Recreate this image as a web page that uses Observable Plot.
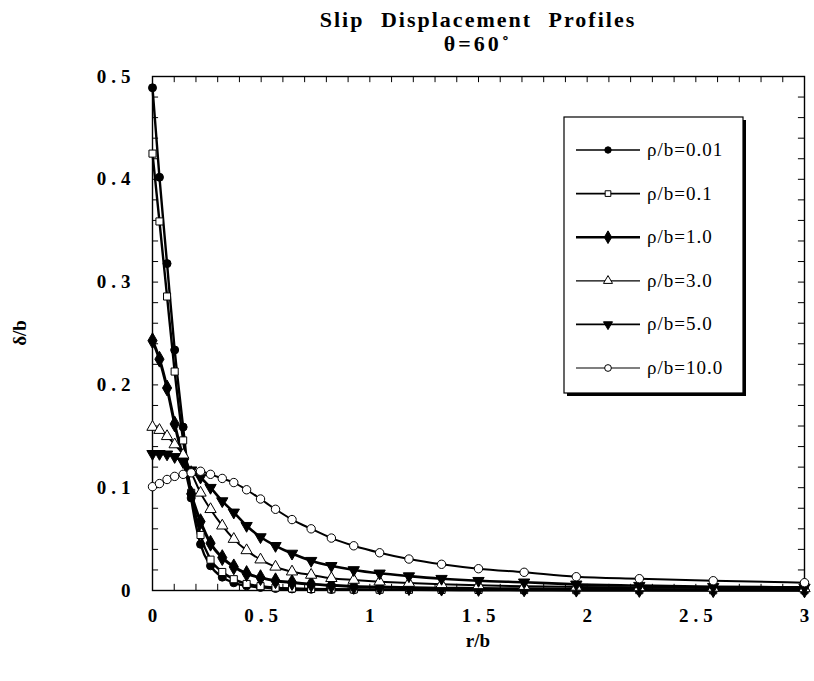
<!DOCTYPE html>
<html>
<head>
<meta charset="utf-8">
<script src="https://cdn.jsdelivr.net/npm/d3@7"></script>
<script src="https://cdn.jsdelivr.net/npm/@observablehq/plot@0.6"></script>
<style>
  body { margin: 0; background: #fff; }
  #chart svg { font-family: "Liberation Serif", "Times New Roman", serif; background: #fff; }
  #chart g[aria-label="x-axis tick label"] text,
  #chart g[aria-label="y-axis tick label"] text { font-weight: bold; letter-spacing: 5px; font-size: 19px; }
</style>
</head>
<body>
<div id="chart"></div>
<script>
// ---- data ----
const seriesNames = ["ρ/b=0.01", "ρ/b=0.1", "ρ/b=1.0", "ρ/b=3.0", "ρ/b=5.0", "ρ/b=10.0"];
const rOverB = [0, 0.032, 0.067, 0.102, 0.141, 0.178, 0.221, 0.267, 0.321, 0.374, 0.433, 0.497, 0.566, 0.642, 0.730, 0.823, 0.926, 1.045, 1.18, 1.33, 1.50, 1.71, 1.95, 2.24, 2.58, 3.0];
const delta_001 = [0.489, 0.402, 0.318, 0.234, 0.159, 0.090, 0.045, 0.024, 0.013, 0.0075, 0.0045, 0.003, 0.002, 0.0015, 0.0012, 0.001, 0.0008, 0.0007, 0.0006, 0.0005, 0.0004, 0.0003, 0.0003, 0.0002, 0.0002, 0.0002];
const delta_01  = [0.425, 0.359, 0.286, 0.213, 0.146, 0.095, 0.054, 0.030, 0.018, 0.011, 0.0064, 0.0042, 0.0028, 0.002, 0.0015, 0.0012, 0.001, 0.0008, 0.0007, 0.0006, 0.0005, 0.0004, 0.0003, 0.0003, 0.0002, 0.0002];
const delta_1   = [0.243, 0.225, 0.197, 0.162, 0.128, 0.094, 0.067, 0.046, 0.032, 0.023, 0.0165, 0.0125, 0.0095, 0.0078, 0.0062, 0.005, 0.004, 0.0033, 0.0028, 0.0023, 0.002, 0.0016, 0.0013, 0.001, 0.0008, 0.0006];
const delta_3   = [0.159, 0.156, 0.150, 0.142, 0.132, 0.115, 0.095, 0.079, 0.063, 0.050, 0.039, 0.030, 0.023, 0.0183, 0.0151, 0.0119, 0.0102, 0.0086, 0.0072, 0.006, 0.005, 0.0042, 0.0035, 0.003, 0.0025, 0.002];
const delta_5   = [0.133, 0.133, 0.1325, 0.130, 0.125, 0.117, 0.110, 0.100, 0.087, 0.076, 0.063, 0.052, 0.0435, 0.036, 0.029, 0.024, 0.020, 0.0167, 0.014, 0.0115, 0.0095, 0.008, 0.006, 0.0047, 0.0037, 0.003];
const delta_10  = [0.101, 0.104, 0.108, 0.111, 0.113, 0.1145, 0.116, 0.113, 0.109, 0.105, 0.098, 0.089, 0.079, 0.069, 0.060, 0.051, 0.0435, 0.0367, 0.0306, 0.0255, 0.0212, 0.0177, 0.0134, 0.0115, 0.0095, 0.0076];
const xTickLabels = [0, 0.5, 1, 1.5, 2, 2.5, 3];
const yTickLabels = [0, 0.1, 0.2, 0.3, 0.4, 0.5];
const xMinorTicks = [0.1,0.2,0.3,0.4,0.5,0.6,0.7,0.8,0.9,1,1.1,1.2,1.3,1.4,1.5,1.6,1.7,1.8,1.9,2,2.1,2.2,2.3,2.4,2.5,2.6,2.7,2.8,2.9];
const yMinorTicks = [0.02,0.04,0.06,0.08,0.1,0.12,0.14,0.16,0.18,0.2,0.22,0.24,0.26,0.28,0.3,0.32,0.34,0.36,0.38,0.4,0.42,0.44,0.46,0.48];
const titleText = "Slip Displacement Profiles";
const subtitleText = "θ=60˚";
const xLabel = "r/b";
const yLabel = "δ/b";

// ---- styling per series ----
const allValues = [delta_001, delta_01, delta_1, delta_3, delta_5, delta_10];
const styles = [
  {symbol: "circle",   fill: "black", r: 4,   rotate: 0,   lw: 2.4, legendLw: 1.6},
  {symbol: "square",   fill: "white", r: 4,   rotate: 0,   lw: 2.4, legendLw: 1.6},
  {symbol: "diamond",  fill: "black", r: 4.8, rotate: 0,   lw: 3.0, legendLw: 2.6},
  {symbol: "triangle", fill: "white", r: 4.2, rotate: 0,   lw: 2.0, legendLw: 1.2},
  {symbol: "triangle", fill: "black", r: 4.2, rotate: 180, lw: 2.6, legendLw: 1.8},
  {symbol: "circle",   fill: "white", r: 4.2, rotate: 0,   lw: 2.0, legendLw: 1.2}
];

const rows = [];
seriesNames.forEach((name, i) => {
  rOverB.forEach((r, j) => rows.push({series: name, r, d: allValues[i][j]}));
});

const marks = [
  Plot.frame({stroke: "black", strokeWidth: 1.4}),
  Plot.ruleX(xMinorTicks, {x: d => d, y1: 0, y2: 0.006, stroke: "black", strokeWidth: 1}),
  Plot.ruleX(xMinorTicks, {x: d => d, y1: 0.494, y2: 0.5, stroke: "black", strokeWidth: 1}),
  Plot.ruleY(yMinorTicks, {y: d => d, x1: 0, x2: 0.028, stroke: "black", strokeWidth: 1}),
  Plot.ruleY(yMinorTicks, {y: d => d, x1: 2.972, x2: 3, stroke: "black", strokeWidth: 1}),
  Plot.axisX(xTickLabels, {tickSize: 0, tickPadding: 18, dx: 2.5, label: null, tickFormat: d => String(d)}),
  Plot.axisY(yTickLabels, {tickSize: 0, tickPadding: 17, label: null, tickFormat: d => d === 0 ? "0" : d3.format(".1f")(d)})
];
seriesNames.forEach((name, i) => {
  const s = styles[i];
  const data = rows.filter(d => d.series === name);
  marks.push(Plot.line(data, {x: "r", y: "d", curve: "monotone-x", stroke: "black", strokeWidth: s.lw}));
});
seriesNames.forEach((name, i) => {
  const s = styles[i];
  const data = rows.filter(d => d.series === name);
  marks.push(Plot.dot(data, {x: "r", y: "d", symbol: s.symbol, r: s.r, fill: s.fill, stroke: "black", strokeWidth: 1, rotate: s.rotate}));
});

const plot = Plot.plot({
  width: 814,
  height: 681,
  marginLeft: 152,
  marginRight: 10,
  marginTop: 76,
  marginBottom: 91,
  x: {domain: [0, 3]},
  y: {domain: [0, 0.5]},
  style: {fontFamily: "Liberation Serif, Times New Roman, serif", color: "black", background: "white"},
  marks
});
document.getElementById("chart").appendChild(plot);

// ---- titles, axis titles and legend ----
const svg = d3.select(plot);
const xs = plot.scale("x"), ys = plot.scale("y");
const cx = (xs.range[0] + xs.range[1]) / 2;
const cy = (ys.range[0] + ys.range[1]) / 2;
const serif = "Liberation Serif, Times New Roman, serif";

svg.append("text").attr("x", cx).attr("y", 27).attr("text-anchor", "middle")
  .attr("font-family", serif).attr("font-size", 22).attr("font-weight", "bold")
  .attr("word-spacing", 9).attr("letter-spacing", 2).text(titleText);
svg.append("text").attr("x", cx).attr("y", 51).attr("text-anchor", "middle")
  .attr("font-family", serif).attr("font-size", 22).attr("font-weight", "bold")
  .attr("letter-spacing", 3).text(subtitleText);
svg.append("text").attr("x", cx).attr("y", 647).attr("text-anchor", "middle")
  .attr("font-family", serif).attr("font-size", 19).attr("font-weight", "bold").text(xLabel);
svg.append("text").attr("transform", `translate(26,${cy}) rotate(-90)`).attr("text-anchor", "middle")
  .attr("font-family", serif).attr("font-size", 19).attr("font-weight", "bold").text(yLabel);

const lg = svg.append("g").attr("transform", "translate(564,117)");
const boxW = 179, boxH = 276;
lg.append("rect").attr("x", 3).attr("y", 3).attr("width", boxW).attr("height", boxH).attr("fill", "black");
lg.append("rect").attr("x", 0).attr("y", 0).attr("width", boxW).attr("height", boxH)
  .attr("fill", "white").attr("stroke", "black").attr("stroke-width", 1.2);
const symMap = {circle: d3.symbolCircle, square: d3.symbolSquare, diamond: d3.symbolDiamond, triangle: d3.symbolTriangle};
seriesNames.forEach((name, i) => {
  const s = styles[i];
  const yy = 33 + i * 43.6;
  const row = lg.append("g").attr("transform", `translate(0,${yy})`);
  row.append("line").attr("x1", 12).attr("x2", 76).attr("y1", 0).attr("y2", 0)
    .attr("stroke", "black").attr("stroke-width", s.legendLw);
  const size = Math.PI * (s.r * 0.8) ** 2;
  row.append("path").attr("d", d3.symbol(symMap[s.symbol], size)())
    .attr("transform", `translate(44,0) rotate(${s.rotate})`)
    .attr("fill", s.fill).attr("stroke", "black").attr("stroke-width", 1);
  row.append("text").attr("x", 83).attr("y", 6).attr("text-anchor", "start").attr("font-family", serif)
    .attr("font-size", 19).attr("letter-spacing", 1).text(name);
});
</script>
</body>
</html>
